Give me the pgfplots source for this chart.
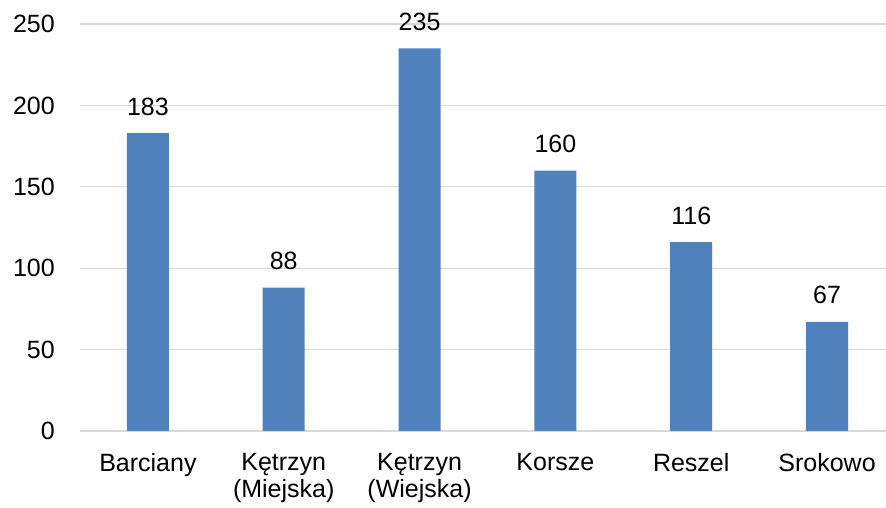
\documentclass[border=0pt]{standalone}
\usepackage{fontspec}
\setmainfont{Liberation Sans}
\usepackage{pgfplots}
\pgfplotsset{compat=1.18}
\definecolor{barblue}{HTML}{4F81BD}
\definecolor{gridgray}{HTML}{D9D9D9}
\begin{document}
\begin{tikzpicture}[font=\fontsize{25pt}{27pt}\selectfont]
\begin{axis}[
  at={(0,0)}, anchor=south west,
  scale only axis,
  width=806pt, height=407pt,
  xmin=-0.5, xmax=5.434,
  ymin=0, ymax=250,
  ytick={0,50,...,250},
  xtick={0,1,2,3,4,5},
  xticklabels={Barciany,{Kętrzyn\\(Miejska)},{Kętrzyn\\(Wiejska)},Korsze,Reszel,Srokowo},
  xticklabel style={align=center, anchor=north, inner sep=0pt, yshift=-22pt, font=\fontsize{25pt}{27pt}\selectfont},
  yticklabel style={anchor=east, inner sep=0pt, xshift=-25pt, font=\fontsize{25pt}{27pt}\selectfont},
  /pgf/number format/assume math mode=true,
  major tick length=0pt,
  axis x line*=bottom,
  axis y line*=left,
  y axis line style={draw=none},
  x axis line style={gridgray, line width=1.5pt, -},
  ymajorgrids,
  grid style={gridgray, line width=1.2pt},
  ybar, bar width=42pt,
  nodes near coords,
  nodes near coords style={font=\fontsize{25pt}{27pt}\selectfont, inner sep=0pt, anchor=base, yshift=18pt},
  clip=false,
]
\addplot[fill=barblue, draw=none] coordinates {
  (0,183) (1,88) (2,235) (3,160) (4,116) (5,67)
};
\end{axis}
\pgfresetboundingbox
\path (-80pt,-77pt) rectangle (806pt,431pt);
\end{tikzpicture}
\end{document}
